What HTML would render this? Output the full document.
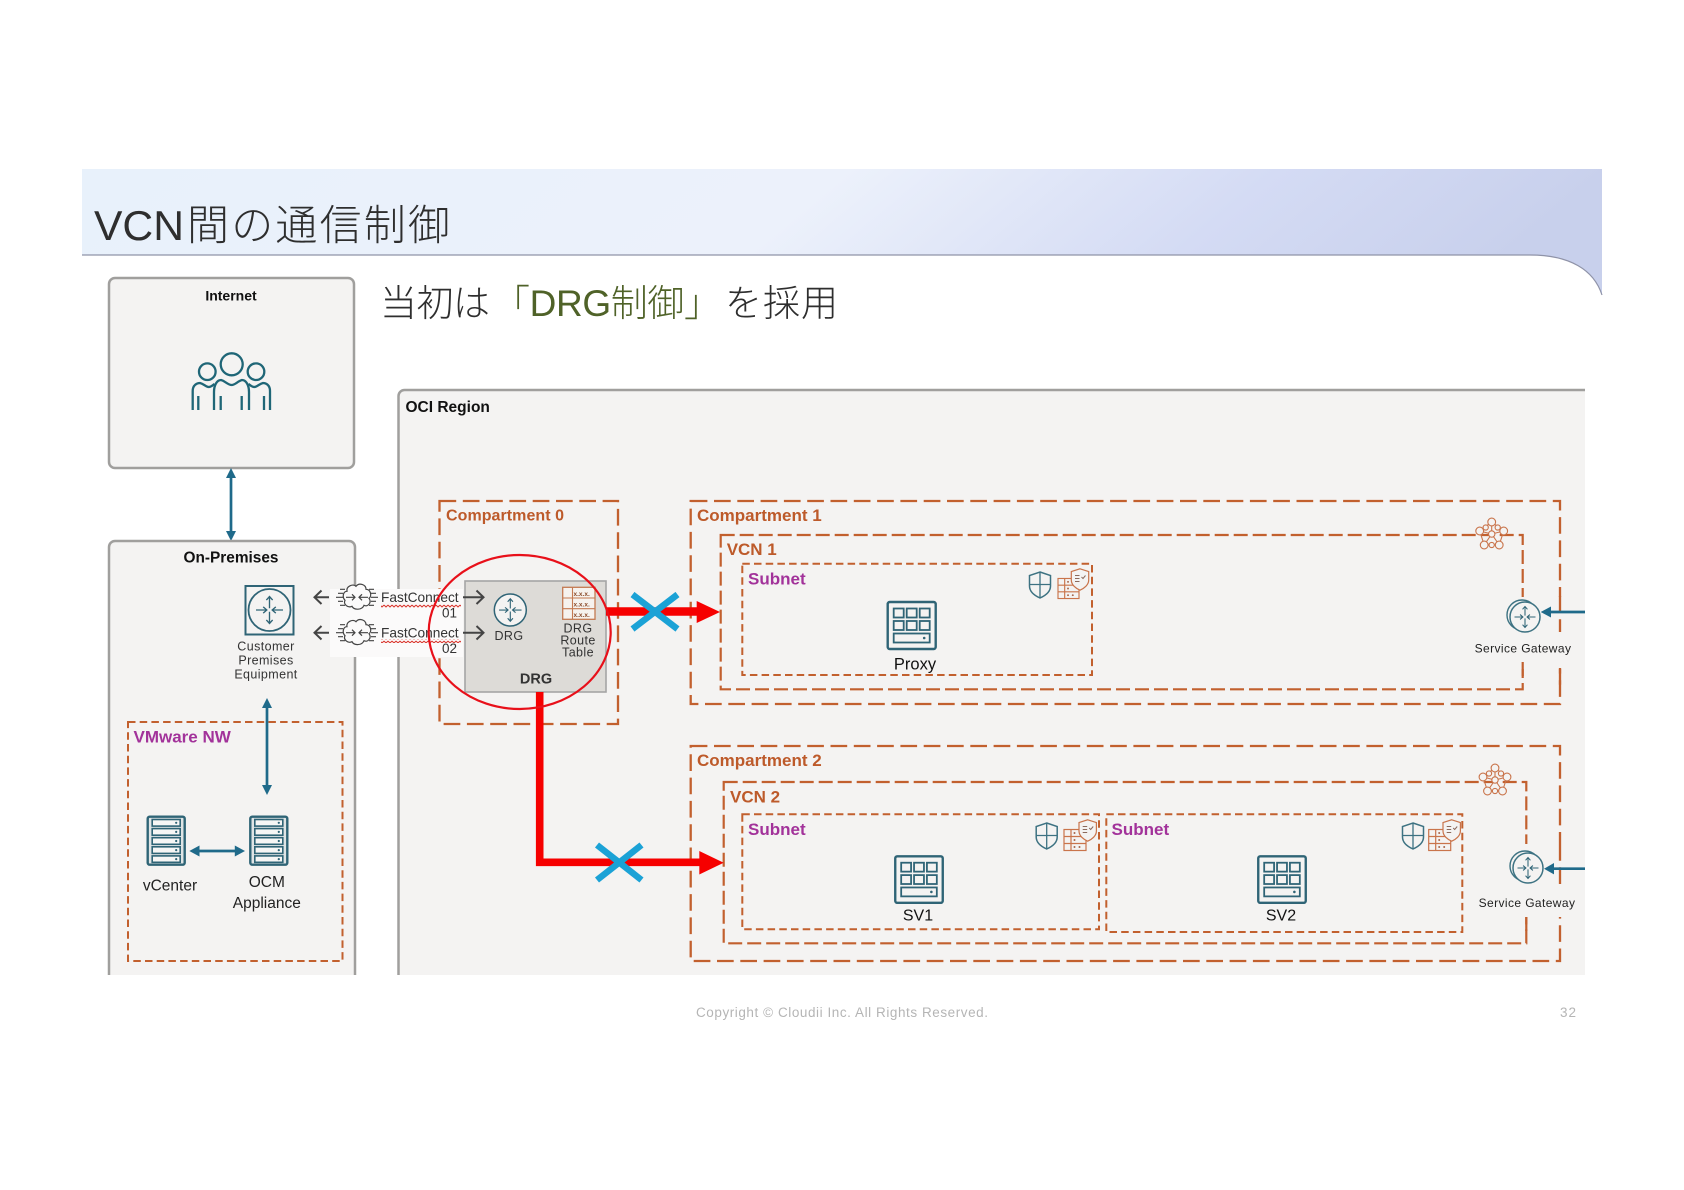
<!DOCTYPE html>
<html lang="ja">
<head>
<meta charset="utf-8">
<title>VCN間の通信制御</title>
<style>
html,body{margin:0;padding:0;background:#fff;width:1684px;height:1190px;overflow:hidden}
svg{display:block}
text{font-family:"Liberation Sans","Noto Sans CJK JP",sans-serif}
.jp{font-weight:300;fill:#2e2e2e}
.or{fill:#bd5a2a;font-weight:700;font-size:17px}
.pu{fill:#a2329a;font-weight:700;font-size:17px}
.sm{fill:#333;font-size:12.5px;letter-spacing:.4px;text-anchor:middle}
.c{fill:none;stroke:#c2602e;stroke-width:2.3;stroke-dasharray:16.7 6.6}
.v{fill:none;stroke:#c2602e;stroke-width:2.2;stroke-dasharray:14 5}
.s{fill:none;stroke:#c2602e;stroke-width:2;stroke-dasharray:7.5 4.2}
.box{fill:#f4f3f2;stroke:#a09f9d;stroke-width:2.5}
.tl{fill:none;stroke:#1f6a8a;stroke-width:2.7}
.ah{fill:#1f6a8a}
.bl{stroke:#1ba2d6;stroke-width:6.5;fill:none}
.ga{fill:none;stroke:#444;stroke-width:2}
</style>
</head>
<body>
<svg width="1684" height="1190" viewBox="0 0 1684 1190" xmlns="http://www.w3.org/2000/svg">
<defs>
<linearGradient id="hg" x1="0" y1="0" x2="1" y2="0.1">
<stop offset="0" stop-color="#e8f1fb"/>
<stop offset="0.5" stop-color="#ecf1fb"/>
<stop offset="0.78" stop-color="#d4dbf4"/>
<stop offset="1" stop-color="#c8d0ec"/>
</linearGradient>
<pattern id="wave" width="4" height="4" patternUnits="userSpaceOnUse">
<path d="M0 1 L2 3 L4 1" fill="none" stroke="#d9352c" stroke-width="1"/>
</pattern>
<symbol id="grid" viewBox="0 0 50 49" overflow="visible">
<rect x="1" y="1" width="48" height="47" rx="2" fill="#f4f3f2" stroke="#2f6476" stroke-width="2.4"/>
<g fill="none" stroke="#2f6476" stroke-width="1.8">
<rect x="7" y="7.5" width="10" height="9"/><rect x="20" y="7.5" width="10" height="9"/><rect x="33" y="7.5" width="10" height="9"/>
<rect x="7" y="20" width="10" height="9"/><rect x="20" y="20" width="10" height="9"/><rect x="33" y="20" width="10" height="9"/>
<rect x="7" y="32.5" width="36" height="9"/>
</g>
<circle cx="37.5" cy="37" r="1.3" fill="#2f6476"/>
</symbol>
<symbol id="rack" viewBox="0 0 39 50" overflow="visible">
<rect x="1" y="1" width="37" height="48" rx="2" fill="#dfe4e5" stroke="#2f6476" stroke-width="2.4"/>
<g fill="#f6f6f5" stroke="#2f6476" stroke-width="1.6">
<rect x="5.500" y="3.800" width="28" height="6.600"/><rect x="5.500" y="12.900" width="28" height="6.600"/><rect x="5.500" y="22" width="28" height="6.600"/><rect x="5.500" y="31.100" width="28" height="6.600"/><rect x="5.500" y="40.200" width="28" height="6.400"/>
</g>
<g fill="#2f6476">
<circle cx="29.500" cy="7.100" r="1.100"/><circle cx="29.500" cy="16.200" r="1.100"/><circle cx="29.500" cy="25.300" r="1.100"/><circle cx="29.500" cy="34.400" r="1.100"/><circle cx="29.500" cy="43.400" r="1.100"/>
</g>
</symbol>
<symbol id="arrows" viewBox="-20 -20 40 40" overflow="visible">
<g fill="none" stroke="#2f6476" stroke-width="1.5">
<path d="M-15 0H-3M-7 -3.5L-3 0L-7 3.5"/>
<path d="M15 0H3M7 -3.5L3 0L7 3.5"/>
<path d="M0 -2V-15M-3.5 -11L0 -15L3.5 -11"/>
<path d="M0 2V15M-3.5 11L0 15L3.5 11"/>
</g>
</symbol>
<symbol id="shield" viewBox="0 0 23 28" overflow="visible">
<path d="M11.5 1L22 4.5V15C22 21 16 25 11.5 27C7 25 1 21 1 15V4.5Z" fill="#f4f3f2" stroke="#3d7282" stroke-width="1.5"/>
<path d="M11.5 1V27M1 13.5H22" stroke="#3d7282" stroke-width="1.3" fill="none"/>
</symbol>
<symbol id="tbl" viewBox="0 0 23 22" overflow="visible">
<g fill="#f4f3f2" stroke="#c9744b" stroke-width="1.2">
<rect x=".5" y=".5" width="22" height="21"/>
<path d="M.5 7.5H22.5M.5 14.5H22.5M7.5 .5V21.5" fill="none"/>
</g>
<g fill="#a8654a"><circle cx="11" cy="4" r="1"/><circle cx="11" cy="11" r="1"/><circle cx="11" cy="18" r="1"/><circle cx="16" cy="18" r="1"/></g>
</symbol>
<symbol id="sh2" viewBox="0 0 19 23" overflow="visible">
<path d="M9.5 .8L18.2 3.6V12C18.2 17 13.5 20.5 9.5 22.2C5.5 20.5 .8 17 .8 12V3.6Z" fill="#f4f3f2" stroke="#c9744b" stroke-width="1.2"/>
<path d="M4.5 7.5H9M4.5 10.5H9M4.5 13.5H9M11 9L12.5 10.5L15 7.5" fill="none" stroke="#8c6a5c" stroke-width="1"/>
</symbol>
<symbol id="hex" viewBox="-18 -18 36 36" overflow="visible">
<path d="M0 -12L-12 -3L-7.5 11H7.5L12 -3ZM0 0L0 -12M0 0L-12 -3M0 0L12 -3M0 0L-7.5 11M0 0L7.5 11" fill="none" stroke="#c9744b" stroke-width="1.1"/>
<g fill="#f4f3f2" stroke="#c9744b" stroke-width="1.1">
<circle cx="0" cy="-12" r="3.9"/><circle cx="-12" cy="-3" r="3.9"/><circle cx="12" cy="-3" r="3.9"/><circle cx="-7.5" cy="11" r="3.9"/><circle cx="7.5" cy="11" r="3.9"/><circle cx="0" cy="0" r="3.2"/><circle cx="-6" cy="-6.5" r="2.6"/><circle cx="6" cy="-6.5" r="2.6"/><circle cx="0" cy="11" r="2.6"/>
</g>
</symbol>
<symbol id="cloud" viewBox="-22 -15 44 30" overflow="visible">
<path d="M-10 -6C-11 -11 -4 -14 -1 -11C2 -15 9 -13 9 -8C14 -8 15 -1 12 1C15 5 11 10 7 8C5 13 -3 13 -5 9C-9 11 -14 7 -12 3C-15 0 -14 -6 -10 -6Z" fill="#fbfafa" stroke="#444" stroke-width="1.2"/>
<g fill="none" stroke="#444" stroke-width="1.2">
<path d="M-21 0H-14M-19 -4H-14M-19 4H-14M-17 -8H-12M-17 8H-12M14 0H21M14 -4H19M14 4H19M12 -8H17M12 8H17"/>
<path d="M-11 0H-2M-5 -3L-2 0L-5 3M11 0H2M5 -3L2 0L5 3"/>
</g>
</symbol>
</defs>

<!-- header -->
<path d="M82 169H1602V295C1594 270 1570 255 1530 255H82Z" fill="url(#hg)"/>
<path d="M82 255H1530C1570 255 1594 270 1602 295" fill="none" stroke="#8f93a8" stroke-width="1.2"/>
<text class="jp" x="94" y="240" font-size="42" textLength="90" lengthAdjust="spacingAndGlyphs">VCN</text>
<text class="jp" x="187" y="240" font-size="42" textLength="263" lengthAdjust="spacing">間の通信制御</text>

<text class="jp" x="380" y="316" font-size="37" textLength="110" lengthAdjust="spacing">当初は</text>
<text x="493" y="316" font-size="37" font-weight="300" fill="#4f6228" textLength="228" lengthAdjust="spacing">「DRG制御」</text>
<text class="jp" x="725" y="316" font-size="37" textLength="113" lengthAdjust="spacing">を採用</text>

<!-- internet -->
<rect class="box" x="109" y="278" width="245" height="190" rx="6"/>
<text x="231" y="300.500" font-size="14" font-weight="700" text-anchor="middle" fill="#111">Internet</text>
<g fill="none" stroke="#1f6677" stroke-width="2.300">
<circle cx="231.700" cy="364.300" r="11"/>
<circle cx="207.300" cy="371.700" r="8.300"/>
<circle cx="256" cy="371.700" r="8.300"/>
<path d="M192.700 410V391C192.700 385 197 383 200 383C204 384 206 387 209 387C211 387 213 385 214.500 384"/>
<path d="M270 410V391C270 385 266 383 263 383C259 384 257 387 254 387C252 387 250 385 248.500 384"/>
<path d="M214 410V392C214 385 217 380 221 380C225 381 228 385 231.700 385C235 385 238 381 242 380C246 380 249 385 249 392V410"/>
<path d="M198.300 410V396M220.700 410V396M241.700 410V396M264 410V396"/>
</g>

<!-- arrow internet/onprem -->
<path class="tl" d="M231 476V533"/>
<path class="ah" d="M231 468L236 478H226ZM231 541L236 531H226Z"/>

<!-- on-prem -->
<path d="M109 975V547a6 6 0 0 1 6-6H349a6 6 0 0 1 6 6V975Z" fill="#f4f3f2"/>
<path d="M109 975V547a6 6 0 0 1 6-6H349a6 6 0 0 1 6 6V975" fill="none" stroke="#a09f9d" stroke-width="2.500"/>
<text x="231" y="562.500" font-size="15.400" font-weight="700" text-anchor="middle" fill="#111">On-Premises</text>

<!-- region -->
<path d="M398.500 975V396a6 6 0 0 1 6-6H1585V975Z" fill="#f4f3f2"/>
<path d="M398.500 975V396a6 6 0 0 1 6-6H1585" fill="none" stroke="#a09f9d" stroke-width="2.500"/>
<text x="405.500" y="412" font-size="15.500" font-weight="700" fill="#111">OCI Region</text>

<!-- CPE -->
<rect x="245.500" y="586" width="48" height="48.500" fill="#f4f3f2" stroke="#2f6476" stroke-width="2"/>
<circle cx="269.500" cy="610" r="21" fill="#f4f3f2" stroke="#2f6476" stroke-width="1.800"/>
<use href="#arrows" x="251.500" y="592" width="36" height="36"/>
<text class="sm" x="266" y="650.500">Customer</text>
<text class="sm" x="266" y="664.500">Premises</text>
<text class="sm" x="266" y="678.500">Equipment</text>

<!-- vmware -->
<rect class="s" x="128" y="722" width="214.500" height="239"/>
<text class="pu" x="133.500" y="742.500">VMware NW</text>
<path class="tl" d="M267 706V787"/>
<path class="ah" d="M267 698L272 708H262ZM267 795L272 785H262Z"/>
<use href="#rack" x="146.700" y="815.700" width="39" height="50"/>
<use href="#rack" x="249.300" y="815.700" width="39" height="50"/>
<path class="tl" d="M197 851H237"/>
<path class="ah" d="M189.300 851L199.500 845.500V856.500ZM245 851L234.800 845.500V856.500Z"/>
<text x="170" y="890.500" font-size="15.500" fill="#222" text-anchor="middle">vCenter</text>
<text x="266.800" y="887" font-size="15.500" fill="#222" text-anchor="middle">OCM</text>
<text x="266.800" y="908" font-size="15.500" fill="#222" text-anchor="middle">Appliance</text>

<!-- compartments -->
<rect class="c" x="439.500" y="501" width="178.500" height="223"/>
<text class="or" x="446" y="520.500" style="font-size:16px" textLength="118" lengthAdjust="spacing">Compartment  0</text>

<rect class="c" x="690.700" y="501" width="869.300" height="203"/>
<text class="or" x="697" y="521">Compartment 1</text>
<rect class="v" x="720.700" y="535" width="802" height="154.300"/>
<text class="or" x="726.700" y="555">VCN 1</text>
<rect class="s" x="742.300" y="563.700" width="349.700" height="111.300"/>
<text class="pu" x="748" y="584.500">Subnet</text>
<use href="#grid" x="886.700" y="601" width="50" height="49"/>
<text x="915" y="669.500" font-size="16.500" fill="#111" text-anchor="middle">Proxy</text>
<use href="#shield" x="1028.500" y="571" width="23" height="28"/>
<use href="#tbl" x="1057" y="578" width="23" height="21"/>
<use href="#sh2" x="1070.500" y="568" width="19" height="23"/>

<rect class="c" x="690.700" y="746" width="869.300" height="215"/>
<text class="or" x="697" y="766">Compartment 2</text>
<rect class="v" x="723.700" y="782" width="802.600" height="161.300"/>
<text class="or" x="730" y="802.500">VCN 2</text>
<rect class="s" x="742.300" y="814.300" width="356.700" height="115"/>
<text class="pu" x="748" y="835">Subnet</text>
<rect class="s" x="1106.300" y="814.300" width="356" height="117.700"/>
<text class="pu" x="1111.500" y="835">Subnet</text>
<use href="#grid" x="894" y="855.300" width="50" height="48.500"/>
<text x="918" y="920.500" font-size="16" fill="#111" text-anchor="middle">SV1</text>
<use href="#grid" x="1257" y="855.300" width="50" height="48.500"/>
<text x="1281" y="920.500" font-size="16" fill="#111" text-anchor="middle">SV2</text>
<use href="#shield" x="1035.200" y="822" width="23" height="28"/>
<use href="#tbl" x="1063" y="829" width="24" height="22"/>
<use href="#sh2" x="1078.200" y="819" width="19" height="23"/>
<use href="#shield" x="1401.500" y="822" width="23" height="28"/>
<use href="#tbl" x="1427.700" y="829" width="24" height="22"/>
<use href="#sh2" x="1442.200" y="819" width="19" height="23"/>

<!-- service gateways -->
<rect x="1490" y="597" width="75" height="72" fill="#f4f3f2"/>
<path d="M1560 596V632" stroke="#c2602e" stroke-width="2.300" stroke-dasharray="16.700 6.600"/>
<path d="M1560 668V688" stroke="#c2602e" stroke-width="2.300" stroke-dasharray="16.700 6.600"/>
<path d="M1522.700 662V680" stroke="#c2602e" stroke-width="2.200" stroke-dasharray="14 5"/>
<circle cx="1522" cy="615" r="15" fill="none" stroke="#3d7282" stroke-width="1.400"/>
<circle cx="1525" cy="617" r="15" fill="#f4f3f2" stroke="#3d7282" stroke-width="1.500"/>
<use href="#arrows" x="1511" y="603" width="28" height="28"/>
<path class="tl" d="M1585 612H1548"/>
<path class="ah" d="M1540.700 612L1551 606.500V617.500Z"/>
<text x="1523" y="652.500" font-size="12" fill="#222" text-anchor="middle" letter-spacing=".4">Service Gateway</text>
<use href="#hex" x="1473.700" y="516" width="36" height="36"/>

<rect x="1495" y="844" width="70" height="73" fill="#f4f3f2"/>
<path d="M1526.300 917V936" stroke="#c2602e" stroke-width="2.200" stroke-dasharray="14 5"/>
<path d="M1560 844V885" stroke="#c2602e" stroke-width="2.300" stroke-dasharray="16.700 6.600"/>
<circle cx="1525" cy="866" r="15" fill="none" stroke="#3d7282" stroke-width="1.400"/>
<circle cx="1528" cy="868" r="15" fill="#f4f3f2" stroke="#3d7282" stroke-width="1.500"/>
<use href="#arrows" x="1514" y="854" width="28" height="28"/>
<path class="tl" d="M1585 868.700H1551"/>
<path class="ah" d="M1544 868.700L1554 863V874.400Z"/>
<text x="1527" y="907" font-size="12" fill="#222" text-anchor="middle" letter-spacing=".4">Service Gateway</text>
<use href="#hex" x="1477" y="762" width="36" height="36"/>

<!-- FastConnect patch -->
<rect x="330" y="589" width="133" height="68" fill="#fbfafa"/>
<path class="ga" d="M329 597.300H315M321.500 590.500L314.500 597.300L321.500 604"/>
<path class="ga" d="M329 632.700H315M321.500 626L314.500 632.700L321.500 639.500"/>
<use href="#cloud" x="335" y="582.300" width="44" height="30"/>
<use href="#cloud" x="335" y="617.700" width="44" height="30"/>
<text x="381" y="602" font-size="13.700" fill="#333">FastConnect</text>
<text x="381" y="637.500" font-size="13.700" fill="#333">FastConnect</text>
<rect x="381" y="603.500" width="80" height="4" fill="url(#wave)"/>
<rect x="381" y="639" width="80" height="4" fill="url(#wave)"/>
<text x="457" y="617.500" font-size="13.500" fill="#333" text-anchor="end">01</text>
<text x="457" y="653" font-size="13.500" fill="#333" text-anchor="end">02</text>

<!-- DRG -->
<rect x="465" y="581" width="141" height="111" fill="#dddbd7" stroke="#a5a5a5" stroke-width="1.600"/>
<path class="ga" d="M463 597.300H483M476.500 590.500L483.500 597.300L476.500 604"/>
<path class="ga" d="M463 632.700H483M476.500 626L483.500 632.700L476.500 639.500"/>
<circle cx="510.300" cy="610" r="16" fill="#f4f3f2" stroke="#2f6476" stroke-width="1.500"/>
<use href="#arrows" x="495.300" y="595" width="30" height="30"/>
<text class="sm" x="509" y="640">DRG</text>
<rect x="562.700" y="587.300" width="32.300" height="32" fill="#f6f2ee" stroke="#c47a52" stroke-width="1.300"/>
<path d="M562.700 598H595M562.700 608.700H595M572.500 587.300V619.300" stroke="#c47a52" stroke-width="1.100" fill="none"/>
<g font-size="6.500" fill="#8c4c2c" font-weight="700">
<text x="573.500" y="596">x.x.x.</text><text x="573.500" y="606.500">x.x.x.</text><text x="573.500" y="617">x.x.x.</text>
</g>
<text class="sm" x="578" y="632.500">DRG</text>
<text class="sm" x="578" y="644.500">Route</text>
<text class="sm" x="578" y="656.500">Table</text>
<text x="536" y="683.500" font-size="14.500" font-weight="700" fill="#333" text-anchor="middle">DRG</text>

<!-- red connectors -->
<path d="M606 611.500H699" stroke="#f60000" stroke-width="8.500" fill="none"/>
<path d="M696.700 601L720 612L696.700 623Z" fill="#f60000"/>
<path d="M539.700 692V862.300H701" stroke="#f60000" stroke-width="7.600" fill="none"/>
<path d="M699.300 851L723.700 862.700L699.300 874.500Z" fill="#f60000"/>
<ellipse cx="519.700" cy="632" rx="91" ry="77" fill="none" stroke="#e8101a" stroke-width="2.200"/>

<!-- X marks -->
<path class="bl" d="M632.500 594.500L677.500 629M677.500 594.500L632.500 629"/>
<path class="bl" d="M597 845L641.500 880M641.500 845L597 880"/>

<!-- footer -->
<text x="696" y="1017" font-size="13.500" fill="#b5b5b5" textLength="292" lengthAdjust="spacing">Copyright © Cloudii Inc. All Rights Reserved.</text>
<text x="1560" y="1017" font-size="13.500" fill="#b5b5b5" letter-spacing="1">32</text>
</svg>
</body>
</html>
